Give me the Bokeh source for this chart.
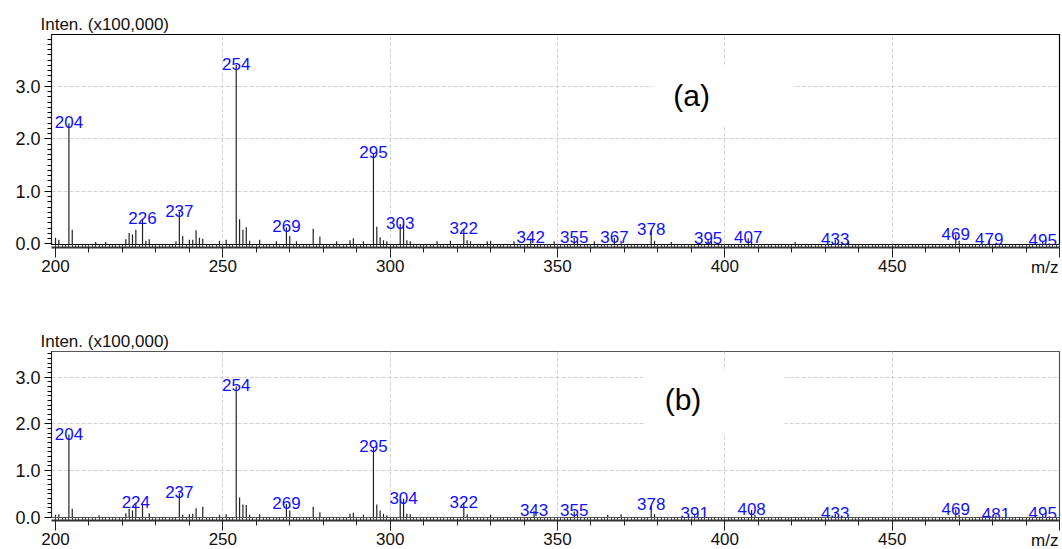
from bokeh.plotting import figure
from bokeh.models import (ColumnDataSource, Range1d, FixedTicker, LinearAxis,
                          BoxAnnotation, PrintfTickFormatter, Label, Title)
from bokeh.layouts import column
from bokeh.embed import file_html
from bokeh.resources import INLINE
from bokeh.core.properties import value

FONT = "Liberation Sans"

# ---------------- data ----------------
mz_a = [200, 201, 204, 205, 212, 215, 221, 222, 223, 224, 226, 227, 228, 236, 237, 238, 240, 241,
        242, 243, 244, 249, 251, 254, 255, 256, 257, 258, 261, 266, 269, 270, 272, 277, 279, 284,
        288, 289, 292, 295, 296, 297, 298, 299, 303, 304, 305, 306, 314, 318, 322, 323, 324, 329,
        330, 337, 342, 349, 355, 356, 361, 367, 369, 378, 379, 384, 395, 396, 407, 408, 421, 433,
        437, 469, 470, 479, 495]
int_a = [0.12, 0.08, 2.30, 0.27, 0.04, 0.04, 0.09, 0.21, 0.18, 0.27, 0.48, 0.06, 0.09, 0.05, 0.61,
         0.15, 0.08, 0.08, 0.26, 0.12, 0.10, 0.06, 0.08, 3.41, 0.47, 0.27, 0.32, 0.06, 0.08, 0.05,
         0.32, 0.15, 0.05, 0.29, 0.14, 0.05, 0.07, 0.11, 0.05, 1.73, 0.33, 0.13, 0.07, 0.05, 0.38,
         0.38, 0.07, 0.05, 0.05, 0.06, 0.29, 0.07, 0.05, 0.05, 0.06, 0.05, 0.11, 0.05, 0.12, 0.05,
         0.05, 0.12, 0.06, 0.27, 0.06, 0.04, 0.09, 0.05, 0.11, 0.05, 0.04, 0.08, 0.05, 0.18, 0.06,
         0.07, 0.06]
labels_a = [204, 226, 237, 254, 269, 295, 303, 322, 342, 355, 367, 378, 395, 407, 433, 469, 479, 495]

mz_b = [200, 201, 204, 205, 213, 221, 222, 223, 224, 226, 228, 237, 238, 240, 241, 242, 244, 249,
        251, 254, 255, 256, 257, 258, 261, 269, 270, 277, 279, 288, 289, 292, 295, 296, 297, 298,
        299, 303, 304, 305, 306, 322, 323, 330, 343, 355, 356, 365, 369, 378, 379, 391, 408, 409,
        433, 469, 470, 481, 495]
int_b = [0.05, 0.06, 1.77, 0.18, 0.04, 0.08, 0.18, 0.14, 0.30, 0.29, 0.08, 0.51, 0.05, 0.06, 0.07,
         0.19, 0.22, 0.05, 0.06, 2.80, 0.42, 0.27, 0.26, 0.05, 0.06, 0.28, 0.14, 0.22, 0.10, 0.07,
         0.09, 0.05, 1.50, 0.27, 0.14, 0.07, 0.04, 0.37, 0.39, 0.07, 0.06, 0.31, 0.06, 0.05, 0.13,
         0.12, 0.05, 0.05, 0.06, 0.25, 0.06, 0.07, 0.15, 0.05, 0.07, 0.16, 0.05, 0.04, 0.06]
labels_b = [204, 224, 237, 254, 269, 295, 304, 322, 343, 355, 378, 391, 408, 433, 469, 481, 495]

x_major = [200, 250, 300, 350, 400, 450, 500]
x_grid = [250, 300, 350, 400, 450]
y_major = [0, 1, 2, 3]
y_grid = [1, 2, 3]
y_label = "Inten. (x100,000)"
x_label = "m/z"


def make_panel(mz, inten, labs, tag, y_max, height, b_top, b_bottom, outline,
               tag_xy, box):
    p = figure(width=1062, height=height, x_range=Range1d(198.8, 500),
               y_range=Range1d(-0.01, y_max), output_backend="svg", toolbar_location=None,
               min_border_left=51, min_border_right=3, min_border_top=b_top,
               min_border_bottom=b_bottom)
    p.background_fill_color = "white"
    p.border_fill_color = "white"
    p.outline_line_color = outline
    p.outline_line_width = 1.2

    # y label as a left-aligned title above the frame
    p.title.text = y_label
    p.title.align = "left"
    p.title.offset = -11
    p.title.standoff = 1
    p.title.text_font = FONT
    p.title.text_font_size = "17px"
    p.title.text_font_style = "normal"
    p.title.text_color = "#111111"

    xa = p.xaxis[0]
    xa.ticker = FixedTicker(ticks=x_major, minor_ticks=list(range(200, 501, 10)))
    xa.major_label_overrides = {500: ""}
    xa.major_tick_out = 10
    xa.major_tick_in = 0
    xa.minor_tick_out = 5
    xa.minor_tick_in = 0
    xa.major_label_standoff = 2
    xa.major_label_text_font = FONT
    xa.major_label_text_font_size = "17px"
    xa.major_label_text_color = "#111111"
    xa.axis_line_color = "#333333"
    xa.axis_line_width = 2
    xa.major_tick_line_color = "#222222"
    xa.minor_tick_line_color = "#222222"

    # fine 1-unit ticks, placed nearest to the frame and taking (almost) no space
    fine = LinearAxis(ticker=FixedTicker(ticks=list(range(200, 501))),
                      major_tick_out=3, major_tick_in=0, minor_tick_out=0, minor_tick_in=0,
                      axis_line_color=None, major_label_text_color=None,
                      major_label_text_font_size="1px", major_label_standoff=-4,
                      major_tick_line_color="#444444")
    p.below = [fine] + list(p.below)

    # x label "m/z", right-aligned on the tick-label row
    mz_title = Title(text=x_label, align="right", vertical_align="top", standoff=-34,
                     offset=1, text_font=FONT, text_font_size="17px",
                     text_font_style="normal", text_color="#111111")
    p.add_layout(mz_title, "below")

    ya = p.yaxis[0]
    ya.ticker = FixedTicker(ticks=y_major, minor_ticks=[i / 10 for i in range(0, 40)])
    ya.formatter = PrintfTickFormatter(format="%.1f")
    ya.major_tick_out = 7
    ya.major_tick_in = 0
    ya.minor_tick_out = 4
    ya.minor_tick_in = 0
    ya.major_label_standoff = 4
    ya.major_label_text_font = FONT
    ya.major_label_text_font_size = "18px"
    ya.major_label_text_color = "#111111"
    ya.axis_line_color = "#222222"

    p.xgrid.ticker = FixedTicker(ticks=x_grid)
    p.ygrid.ticker = FixedTicker(ticks=y_grid)
    for g in (p.xgrid, p.ygrid):
        g.grid_line_color = "#d2d2d2"
        g.grid_line_dash = "4 2"
        g.grid_line_width = 1

    p.add_layout(BoxAnnotation(left=box[0], right=box[1], bottom=box[2], top=box[3],
                               fill_color="white", fill_alpha=1.0, line_color=None,
                               level="underlay"))

    src = ColumnDataSource(dict(mz=mz, inten=inten))
    p.segment(x0="mz", y0=0, x1="mz", y1="inten", source=src,
              line_color="#222222", line_width=1.2)

    lookup = dict(zip(mz, inten))
    lsrc = ColumnDataSource(dict(mz=labs, inten=[lookup[m] for m in labs],
                                 txt=[str(m) for m in labs]))
    p.text(x="mz", y="inten", text="txt", source=lsrc, text_font=value(FONT),
           text_font_size="17px", text_color="#1010ff", text_align="center",
           text_baseline="alphabetic", y_offset=-1)

    p.add_layout(Label(x=tag_xy[0], y=tag_xy[1], text=tag, text_font=FONT,
                       text_font_size="30px", text_align="center", text_baseline="middle",
                       text_color="black"))
    return p


pa = make_panel(mz_a, int_a, labels_a, "(a)", 3.99, 290, 34, 46, "black",
                (390.1, 2.83), (378.5, 420.3, 2.23, 3.40))
pb = make_panel(mz_b, int_b, labels_b, "(b)", 3.55, 259, 61, 32, "#555555",
                (387.5, 2.53), (376.1, 417.9, 1.80, 3.13))

layout = column(pa, pb, spacing=0)
open("out.html", "w").write(file_html(layout, INLINE))
